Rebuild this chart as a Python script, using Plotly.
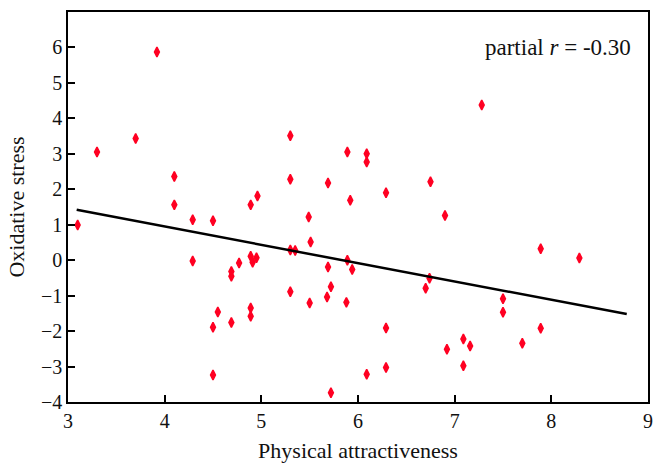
import plotly.graph_objects as go

attract = [3.10, 3.30, 3.70, 3.92, 4.10, 4.10, 4.29, 4.29, 4.50, 4.50, 4.50, 4.55,
           4.69, 4.69, 4.69, 4.77, 4.89, 4.89, 4.91, 4.95, 4.89, 4.89, 4.96,
           5.30, 5.30, 5.30, 5.35, 5.30, 5.49, 5.51, 5.50, 5.69, 5.69, 5.72, 5.68, 5.72,
           5.89, 5.92, 5.89, 5.94, 5.88, 6.09, 6.09, 6.09, 6.29, 6.29, 6.29,
           6.75, 6.74, 6.70, 6.90, 6.92, 7.09, 7.16, 7.09, 7.28, 7.50, 7.50, 7.70,
           7.89, 7.89, 8.29]
stress = [0.99, 3.05, 3.43, 5.87, 2.36, 1.56, 1.14, -0.02, 1.11, -1.89, -3.24, -1.46,
          -0.32, -0.45, -1.76, -0.08, 1.56, 0.11, -0.06, 0.07, -1.35, -1.58, 1.81,
          3.51, 2.28, 0.29, 0.27, -0.89, 1.22, 0.51, -1.21, 2.18, -0.19, -0.75, -1.04, -3.74,
          3.05, 1.69, 0.00, -0.26, -1.19, 3.00, 2.77, -3.22, 1.90, -1.91, -3.03,
          2.21, -0.51, -0.79, 1.26, -2.51, -2.22, -2.42, -2.98, 4.38, -1.09, -1.47, -2.34,
          0.32, -1.92, 0.06]
fit_x = [3.09, 8.78]
fit_y = [1.42, -1.52]
x_ticks = [3, 4, 5, 6, 7, 8, 9]
y_ticks = [-4, -3, -2, -1, 0, 1, 2, 3, 4, 5, 6]

FONT = "Liberation Serif"

fig = go.Figure()
fig.add_trace(go.Scatter(
    x=attract, y=stress, mode="markers",
    marker=dict(symbol="diamond-tall", size=7, color="#ff0022",
                line=dict(color="#ff0022", width=1.5)),
    showlegend=False, hoverinfo="skip", cliponaxis=False))
fig.add_trace(go.Scatter(
    x=fit_x, y=fit_y, mode="lines",
    line=dict(color="black", width=2.5), showlegend=False, hoverinfo="skip"))

fig.update_layout(
    width=654, height=463,
    margin=dict(l=68, r=6, t=12, b=61, autoexpand=False),
    plot_bgcolor="white", paper_bgcolor="white",
    font=dict(family=FONT, size=20, color="#111"),
    xaxis=dict(range=[3, 9], tickvals=x_ticks, ticks="inside", ticklen=7,
               tickwidth=1.5, tickcolor="black", showgrid=False, zeroline=False,
               showline=True, linecolor="black", linewidth=1.5, mirror=True,
               automargin=False,
               title=dict(text="Physical attractiveness", font=dict(size=22), standoff=12),
               tickfont=dict(size=20)),
    yaxis=dict(range=[-4, 7], tickvals=y_ticks, ticks="inside", ticklen=7,
               tickwidth=1.5, tickcolor="black", showgrid=False, zeroline=False,
               showline=True, linecolor="black", linewidth=1.5, mirror=True,
               automargin=False,
               title=dict(text="Oxidative stress", font=dict(size=22), standoff=10),
               tickfont=dict(size=20)),
    annotations=[dict(text="partial <i>r</i> = -0.30", x=0.974, y=0.908,
                      xref="paper", yref="paper", xanchor="right", yanchor="middle",
                      showarrow=False, font=dict(size=23, family=FONT))],
)

fig.write_html("out.html", config={"displayModeBar": False},
               post_script="document.body.style.margin='0';document.body.style.overflow='hidden';")
